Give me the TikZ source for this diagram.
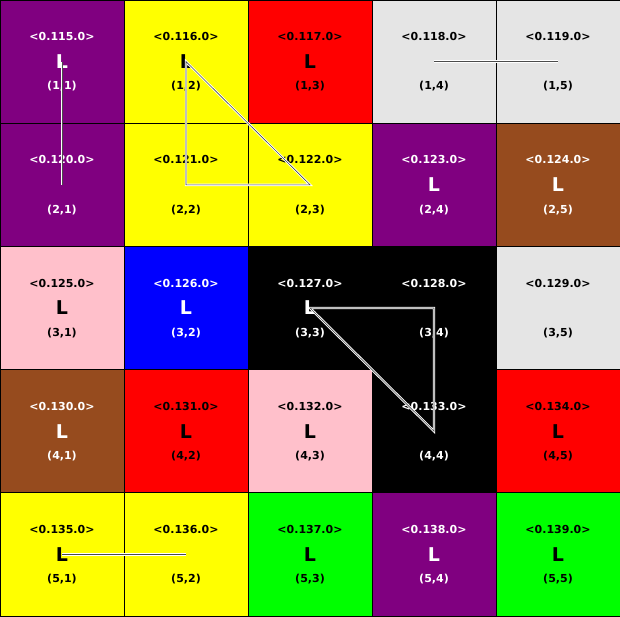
\documentclass[tikz,border=0pt]{standalone}
\usepackage{fontspec}
\setmainfont{DejaVu Sans}
\definecolor{cpurple}{RGB}{128,0,128}
\definecolor{cyellow}{RGB}{255,255,0}
\definecolor{cred}{RGB}{255,0,0}
\definecolor{cgray}{RGB}{229,229,229}
\definecolor{cbrown}{RGB}{150,75,30}
\definecolor{cpink}{RGB}{255,192,203}
\definecolor{cblue}{RGB}{0,0,255}
\definecolor{cblack}{RGB}{0,0,0}
\definecolor{clime}{RGB}{0,255,0}
\tikzset{
  cellbox/.style={draw=black, line width=1pt, minimum width=124pt, minimum height=123.2pt, inner sep=0pt, outer sep=0pt},
  lab/.style={font=\fontsize{11}{13}\selectfont\bfseries, inner sep=0pt},
  bigL/.style={font=\fontsize{19}{21}\selectfont\bfseries, inner sep=0pt},
  link/.style={draw=white, line width=0.9pt, double=gray!60!black, double distance=0.6pt},
}
\begin{document}
\begin{tikzpicture}[x=1pt,y=1pt]
\useasboundingbox (0,0) rectangle (620,-616);
\foreach \i/\j/\col/\tc/\L in {
1/1/cpurple/white/1, 1/2/cyellow/black/1, 1/3/cred/black/1, 1/4/cgray/black/0, 1/5/cgray/black/0,
2/1/cpurple/white/0, 2/2/cyellow/black/0, 2/3/cyellow/black/0, 2/4/cpurple/white/1, 2/5/cbrown/white/1,
3/1/cpink/black/1, 3/2/cblue/white/1, 3/3/cblack/white/1, 3/4/cblack/white/0, 3/5/cgray/black/0,
4/1/cbrown/white/1, 4/2/cred/black/1, 4/3/cpink/black/1, 4/4/cblack/white/0, 4/5/cred/black/1,
5/1/cyellow/black/1, 5/2/cyellow/black/0, 5/3/clime/black/1, 5/4/cpurple/white/1, 5/5/clime/black/1}{
  \pgfmathtruncatemacro{\n}{115+5*(\i-1)+(\j-1)}
  \node[cellbox, fill=\col] (cell-\i-\j) at (\j*124-62, -\i*123.2+61.6) {};
  \node[lab, text=\tc] (top-\i-\j) at ([yshift=25pt]cell-\i-\j.center) {<0.\n.0>};
  \node[lab, text=\tc] (pos-\i-\j) at ([yshift=-25pt]cell-\i-\j.center) {(\i,\j)};
  \ifnum\L=1
    \node[bigL, text=\tc] (L-\i-\j) at (cell-\i-\j.center) {L};
  \fi
}
\draw[link] (cell-1-1.center) -- (cell-2-1.center);
\draw[link] (cell-1-2.center) -- (cell-2-2.center) -- (cell-2-3.center) -- cycle;
\draw[link] (cell-1-4.center) -- (cell-1-5.center);
\draw[link] (cell-3-3.center) -- (cell-3-4.center) -- (cell-4-4.center) -- cycle;
\draw[link] (cell-5-1.center) -- (cell-5-2.center);
\end{tikzpicture}
\end{document}
